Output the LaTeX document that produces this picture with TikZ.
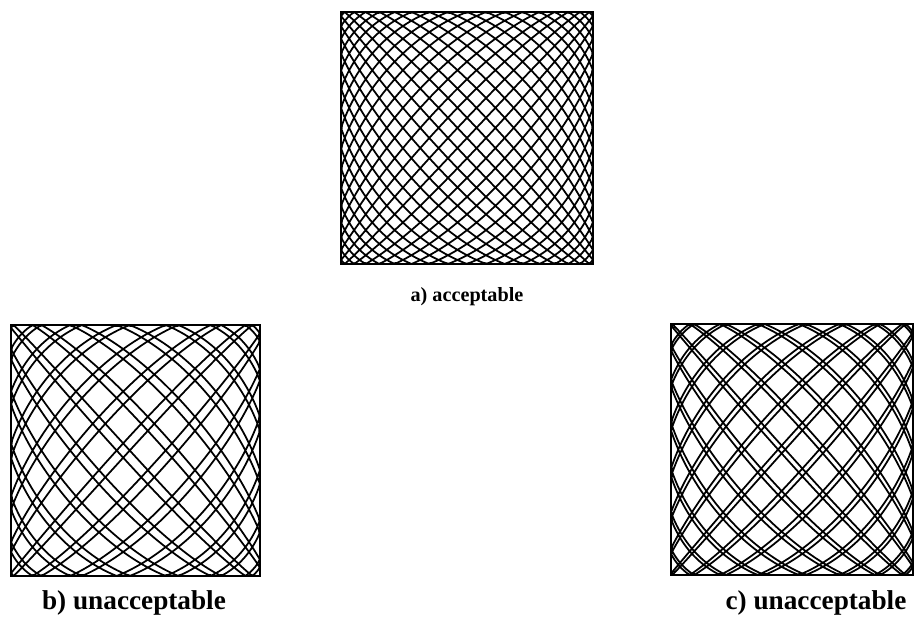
\documentclass[tikz,border=0pt]{standalone}
\usepackage{fontspec}
\setmainfont{Liberation Serif}
\begin{document}
\begin{tikzpicture}[x=0.02cm,y=-0.02cm,
  curve/.style={line width=1.0pt,line join=round},
  frame/.style={line width=1.4pt},
  lbl/.style={font=\fontsize{11.5}{13}\selectfont\bfseries,inner sep=0pt},
  lblb/.style={font=\fontsize{15.5}{17}\selectfont\bfseries,inner sep=0pt}]
\useasboundingbox (0,0) rectangle (914,617);
\pgfmathdeclarefunction{tri}{1}{\pgfmathparse{1-2*abs(mod(abs(#1),360)/180-1)}}
\pgfmathdeclarefunction{wp}{1}{\pgfmathparse{sin(68.75*(#1))/0.9320}}
% a) acceptable
\draw[curve] plot[domain=0:360,samples=2400,variable=\t]
  ({467+126*wp(tri(16*\t))},{138+126*wp(tri(17*\t+5.6))});
\draw[frame] (341,12) rectangle (593,264);
\node[lbl] (la) at (467,297) {a) acceptable};
% b) unacceptable
\draw[curve] plot[domain=0:360,samples=1700,variable=\t]
  ({135.5+124.5*wp(tri(12*\t))},{450.5+125.5*wp(tri(13*\t+4))});
\draw[frame] (11,325) rectangle (260,576);
\node[lblb] (lb) at (134,603) {b) unacceptable};
% c) unacceptable
\draw[curve] plot[domain=0:360,samples=1900,variable=\t]
  ({792+121*wp(tri(14*\t))},{449.5+125.5*wp(tri(15*\t+2.2))});
\draw[frame] (671,324) rectangle (913,575);
\node[lblb] (lc) at (816,603) {c) unacceptable};
\end{tikzpicture}
\end{document}
